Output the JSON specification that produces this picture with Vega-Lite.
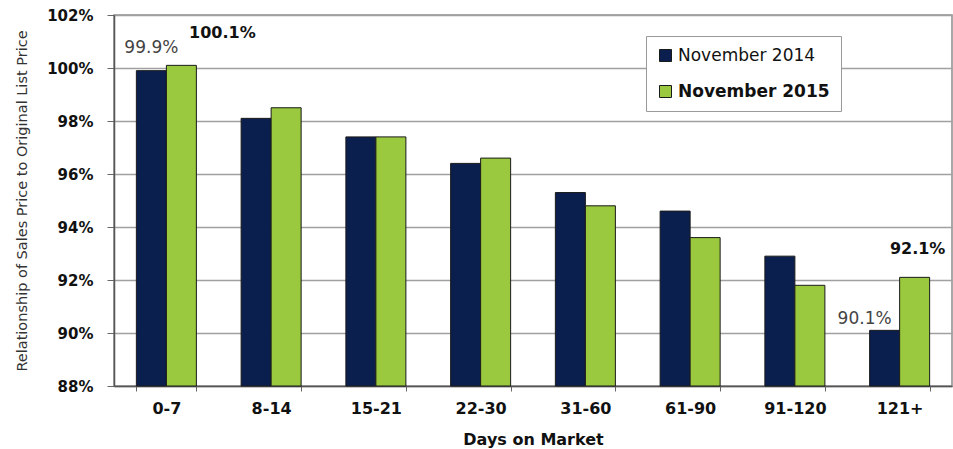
{
  "$schema": "https://vega.github.io/schema/vega-lite/v6.json",
  "width": 838,
  "height": 371,
  "autosize": {"type": "none"},
  "padding": {"left": 114, "top": 15, "right": 1, "bottom": 63},
  "background": "white",
  "config": {
    "font": "DejaVu Sans",
    "view": {"stroke": "#8c8c8c", "strokeWidth": 1.5}
  },
  "data": {
    "values": [
      {"range": "0-7", "year": "November 2014", "value": 0.999},
      {"range": "0-7", "year": "November 2015", "value": 1.001},
      {"range": "8-14", "year": "November 2014", "value": 0.981},
      {"range": "8-14", "year": "November 2015", "value": 0.985},
      {"range": "15-21", "year": "November 2014", "value": 0.974},
      {"range": "15-21", "year": "November 2015", "value": 0.974},
      {"range": "22-30", "year": "November 2014", "value": 0.964},
      {"range": "22-30", "year": "November 2015", "value": 0.966},
      {"range": "31-60", "year": "November 2014", "value": 0.953},
      {"range": "31-60", "year": "November 2015", "value": 0.948},
      {"range": "61-90", "year": "November 2014", "value": 0.946},
      {"range": "61-90", "year": "November 2015", "value": 0.936},
      {"range": "91-120", "year": "November 2014", "value": 0.929},
      {"range": "91-120", "year": "November 2015", "value": 0.918},
      {"range": "121+", "year": "November 2014", "value": 0.901},
      {"range": "121+", "year": "November 2015", "value": 0.921}
    ]
  },
  "encoding": {
    "x": {
      "field": "range",
      "type": "nominal",
      "sort": ["0-7", "8-14", "15-21", "22-30", "31-60", "61-90", "91-120", "121+"],
      "scale": {"paddingInner": 0.4272, "paddingOuter": 0.2136},
      "axis": {
        "title": "Days on Market",
        "titleFontSize": 16,
        "titleFontWeight": "bold",
        "titleColor": "#111111",
        "titlePadding": 15,
        "labelAngle": 0,
        "labelFontSize": 16,
        "labelFontWeight": "bold",
        "labelColor": "#111111",
        "labelPadding": 9,
        "tickBand": "extent",
        "tickSize": 5,
        "tickColor": "#666666",
        "domainColor": "#555555",
        "domainWidth": 1.5,
        "grid": false
      }
    },
    "xOffset": {
      "field": "year",
      "type": "nominal",
      "sort": ["November 2014", "November 2015"]
    },
    "y": {
      "field": "value",
      "type": "quantitative",
      "scale": {"domain": [0.88, 1.02], "nice": false, "zero": false},
      "axis": {
        "title": "Relationship of Sales Price to Original List Price",
        "titleFontSize": 14.5,
        "titleFontWeight": "normal",
        "titleColor": "#333333",
        "titlePadding": 17,
        "values": [0.88, 0.9, 0.92, 0.94, 0.96, 0.98, 1.0, 1.02],
        "format": ".0%",
        "labelFontSize": 15,
        "labelFontWeight": "bold",
        "labelColor": "#111111",
        "labelPadding": 14,
        "tickSize": 7,
        "tickColor": "#666666",
        "domainColor": "#555555",
        "domainWidth": 1.5,
        "gridColor": "#a0a0a0",
        "gridWidth": 1.3
      }
    }
  },
  "layer": [
    {
      "mark": {"type": "bar", "stroke": "#1a1a1a", "strokeWidth": 1},
      "encoding": {
        "y2": {"datum": 0.88},
        "color": {
          "field": "year",
          "type": "nominal",
          "scale": {"domain": ["November 2014", "November 2015"], "range": ["#0b1f4e", "#9ac83e"]},
          "legend": {
            "title": null,
            "orient": "none",
            "legendX": 532,
            "legendY": 21,
            "direction": "vertical",
            "fillColor": "white",
            "strokeColor": "#999999",
            "padding": 11,
            "rowPadding": 18,
            "symbolType": "square",
            "symbolSize": 144,
            "symbolStrokeColor": "#1a1a1a",
            "symbolStrokeWidth": 1,
            "labelFontSize": 17,
            "labelColor": "#111111",
            "labelOffset": 4,
            "labelLimit": 300,
            "encode": {
              "labels": {
                "update": {
                  "fontWeight": {"signal": "datum.value === 'November 2015' ? 'bold' : 'normal'"}
                }
              }
            }
          }
        }
      }
    },
    {
      "transform": [{"filter": "datum.range === '0-7' && datum.year === 'November 2014'"}],
      "mark": {"type": "text", "dy": -23, "fontSize": 17, "color": "#444444"},
      "encoding": {"text": {"field": "value", "type": "quantitative", "format": ".1%"}}
    },
    {
      "transform": [{"filter": "datum.range === '0-7' && datum.year === 'November 2015'"}],
      "mark": {"type": "text", "dx": 41, "dy": -32, "fontSize": 16, "fontWeight": "bold", "color": "#111111"},
      "encoding": {"text": {"field": "value", "type": "quantitative", "format": ".1%"}}
    },
    {
      "transform": [{"filter": "datum.range === '121+' && datum.year === 'November 2014'"}],
      "mark": {"type": "text", "dx": -20, "dy": -11, "fontSize": 17, "color": "#444444"},
      "encoding": {"text": {"field": "value", "type": "quantitative", "format": ".1%"}}
    },
    {
      "transform": [{"filter": "datum.range === '121+' && datum.year === 'November 2015'"}],
      "mark": {"type": "text", "dx": 3, "dy": -28, "fontSize": 16, "fontWeight": "bold", "color": "#111111"},
      "encoding": {"text": {"field": "value", "type": "quantitative", "format": ".1%"}}
    }
  ]
}
